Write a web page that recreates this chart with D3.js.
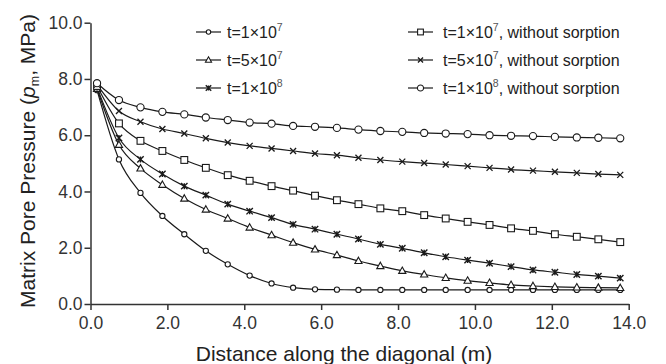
<!DOCTYPE html>
<html>
<head>
<meta charset="utf-8">
<script src="https://cdn.jsdelivr.net/npm/d3@7.9.0/dist/d3.min.js"></script>
<style>
  body { margin: 0; background: #fff; }
  svg { display: block; font-family: "Liberation Sans", Arial, sans-serif; }
</style>
</head>
<body>
<svg id="chart" width="666" height="364"></svg>
<script>
const distance = [0.17, 0.74, 1.30, 1.87, 2.44, 3.00, 3.57, 4.14, 4.71, 5.27, 5.84, 6.41, 6.97,
  7.54, 8.11, 8.68, 9.24, 9.81, 10.38, 10.94, 11.51, 12.08, 12.65, 13.21, 13.78];

const t1e7 = [7.60, 5.14, 3.95, 3.13, 2.48, 1.89, 1.41, 1.01, 0.73, 0.58, 0.52, 0.51, 0.50,
  0.50, 0.50, 0.50, 0.50, 0.50, 0.50, 0.50, 0.50, 0.50, 0.50, 0.50, 0.50];
const t5e7 = [7.65, 5.66, 4.82, 4.24, 3.75, 3.36, 3.04, 2.72, 2.45, 2.18, 1.94, 1.74, 1.53,
  1.35, 1.18, 1.05, 0.93, 0.83, 0.75, 0.68, 0.64, 0.61, 0.59, 0.58, 0.57];
const t1e8 = [7.70, 5.90, 5.14, 4.62, 4.19, 3.87, 3.55, 3.30, 3.07, 2.83, 2.66, 2.48, 2.31,
  2.12, 1.98, 1.82, 1.68, 1.56, 1.45, 1.33, 1.21, 1.13, 1.05, 0.99, 0.92];
const t1e7NoSorp = [7.75, 6.42, 5.80, 5.44, 5.12, 4.84, 4.58, 4.38, 4.19, 4.03, 3.85, 3.69, 3.55,
  3.40, 3.30, 3.16, 3.04, 2.92, 2.81, 2.69, 2.60, 2.48, 2.39, 2.30, 2.20];
const t5e7NoSorp = [7.80, 6.86, 6.48, 6.22, 6.06, 5.89, 5.74, 5.62, 5.53, 5.44, 5.35, 5.29, 5.20,
  5.12, 5.06, 5.01, 4.96, 4.90, 4.84, 4.78, 4.74, 4.70, 4.66, 4.62, 4.59];
const t1e8NoSorp = [7.85, 7.25, 6.99, 6.83, 6.74, 6.63, 6.54, 6.45, 6.41, 6.33, 6.30, 6.26, 6.20,
  6.15, 6.12, 6.08, 6.06, 6.04, 6.00, 5.98, 5.97, 5.94, 5.92, 5.91, 5.89];

const xTicks = [0, 2, 4, 6, 8, 10, 12, 14];
const yTicks = [0, 2, 4, 6, 8, 10];

const series = [
  { base: '1', exp: '7', tail: '', values: t1e7, marker: 'smallCircle' },
  { base: '5', exp: '7', tail: '', values: t5e7, marker: 'triangle' },
  { base: '1', exp: '8', tail: '', values: t1e8, marker: 'star' },
  { base: '1', exp: '7', tail: ', without sorption', values: t1e7NoSorp, marker: 'square' },
  { base: '5', exp: '7', tail: ', without sorption', values: t5e7NoSorp, marker: 'cross' },
  { base: '1', exp: '8', tail: ', without sorption', values: t1e8NoSorp, marker: 'circle' }
];

const svg = d3.select('#chart');
const x = d3.scaleLinear().domain([0, 14]).range([90.5, 628.7]);
const y = d3.scaleLinear().domain([0, 10]).range([304, 22.7]);

const ink = '#1a1a1a';

function drawMarker(g, type, scale = 1) {
  const k = scale;
  if (type === 'smallCircle') {
    g.append('circle').attr('r', 2.6 * k);
  } else if (type === 'circle') {
    g.append('circle').attr('r', 3.6 * k);
  } else if (type === 'square') {
    g.append('rect').attr('x', -3.4 * k).attr('y', -3.4 * k).attr('width', 6.8 * k).attr('height', 6.8 * k);
  } else if (type === 'triangle') {
    g.append('path').attr('d', `M0,${-3.8 * k}L${3.6 * k},${2.6 * k}L${-3.6 * k},${2.6 * k}Z`);
  } else if (type === 'cross') {
    g.append('path').attr('d', `M${-3 * k},${-3 * k}L${3 * k},${3 * k}M${-3 * k},${3 * k}L${3 * k},${-3 * k}`)
      .attr('stroke-width', 1.3);
  } else if (type === 'star') {
    g.append('path').attr('d', `M${-3.2 * k},${-3.2 * k}L${3.2 * k},${3.2 * k}M${-3.2 * k},${3.2 * k}L${3.2 * k},${-3.2 * k}M0,${-3 * k}L0,${3 * k}`)
      .attr('stroke-width', 1.4);
  }
  g.selectAll('*').attr('fill', '#fff').attr('stroke', ink);
  g.selectAll('circle, rect').attr('stroke-width', 1.1);
  g.selectAll('path').filter(function () { return !this.getAttribute('stroke-width'); })
    .attr('stroke-width', 1.1);
}

// axes
const xAxis = svg.append('g')
  .attr('transform', `translate(0,${y(0)})`)
  .call(d3.axisBottom(x).tickValues(xTicks).tickFormat(d3.format('.1f')).tickSize(6).tickSizeOuter(0));
const yAxis = svg.append('g')
  .attr('transform', `translate(${x(0)},0)`)
  .call(d3.axisLeft(y).tickValues(yTicks).tickFormat(d3.format('.1f')).tickSize(6).tickSizeOuter(0));

[xAxis, yAxis].forEach(a => {
  a.select('.domain').attr('stroke', '#333').attr('stroke-width', 1.5);
  a.selectAll('.tick line').attr('stroke', '#333').attr('stroke-width', 1.5);
  a.selectAll('.tick text').attr('fill', '#333').attr('font-size', 17.5)
    .attr('font-family', '"Liberation Sans", Arial, sans-serif');
});
xAxis.selectAll('.tick text').attr('dy', '0.95em').attr('y', 8);
yAxis.selectAll('.tick text').attr('x', -8);

// lines and markers
const line = d3.line()
  .x((d, i) => x(distance[i]))
  .y(d => y(d))
  .curve(d3.curveMonotoneX);

series.forEach(s => {
  svg.append('path')
    .attr('d', line(s.values))
    .attr('fill', 'none')
    .attr('stroke', ink)
    .attr('stroke-width', 1.2);
});

series.forEach(s => {
  s.values.forEach((v, i) => {
    const g = svg.append('g').attr('transform', `translate(${x(distance[i])},${y(v)})`);
    drawMarker(g, s.marker);
  });
});

// legend
const legendRows = [32, 60, 88];
series.forEach((s, k) => {
  const col = k < 3 ? 0 : 1;
  const row = k % 3;
  const x0 = col === 0 ? 196 : 408;
  const textX = col === 0 ? 227 : 443;
  const cy = legendRows[row];
  const lg = svg.append('g');
  lg.append('line')
    .attr('x1', x0).attr('x2', x0 + 25)
    .attr('y1', cy).attr('y2', cy)
    .attr('stroke', ink).attr('stroke-width', 1.2);
  drawMarker(lg.append('g').attr('transform', `translate(${x0 + 12.5},${cy})`), s.marker, 0.85);
  const txt = lg.append('text')
    .attr('x', textX)
    .attr('y', cy + 5.5)
    .attr('font-size', 16)
    .attr('fill', '#222');
  txt.append('tspan').text(`t=${s.base}\u00d710`);
  txt.append('tspan').text(s.exp).attr('font-size', 10.5).attr('dy', -6.5).attr('fill', '#555');
  if (s.tail) txt.append('tspan').text(s.tail).attr('dy', 6.5);
});

// axis titles
svg.append('text')
  .attr('x', 344)
  .attr('y', 361)
  .attr('text-anchor', 'middle')
  .attr('font-size', 21)
  .attr('fill', '#222')
  .text('Distance along the diagonal (m)');

const yTitle = svg.append('text')
  .attr('transform', 'translate(35,161) rotate(-90)')
  .attr('text-anchor', 'middle')
  .attr('font-size', 21)
  .attr('fill', '#222');
yTitle.append('tspan').text('Matrix Pore Pressure (');
yTitle.append('tspan').text('p').attr('font-style', 'italic');
yTitle.append('tspan').text('m').attr('font-size', 12.5).attr('dy', 4);
yTitle.append('tspan').text(', MPa)').attr('dy', -4);
</script>
</body>
</html>
